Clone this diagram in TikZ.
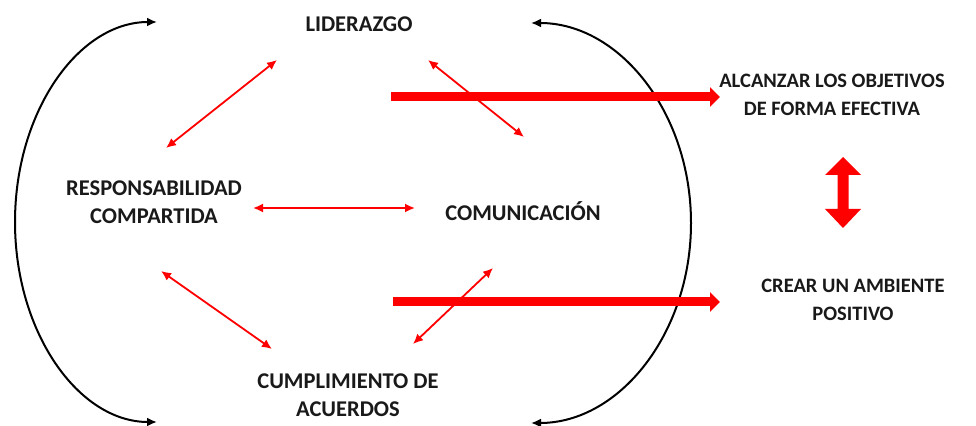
\documentclass[tikz,border=0pt]{standalone}
\usepackage{fontspec}
\setmainfont{Carlito}
\usetikzlibrary{arrows.meta}

\begin{document}
\begin{tikzpicture}[>={Latex[length=10bp,width=9bp]},line join=bevel,
  txt/.style={align=center,font=\bfseries\fontsize{22.5bp}{27.5bp}\selectfont,text=black!90},
  meta/.style={txt,font=\bfseries\fontsize{20.5bp}{28bp}\selectfont},
  rel/.style={red,line width=1.8bp,<->},
  big/.style={red,line width=9bp,-{Triangle[length=10bp,width=19bp]}},
  ciclo/.style={black,line width=2bp,<->}]
\useasboundingbox (0bp,0bp) rectangle (976bp,426bp);
%%
\node (lider) at (359bp,402bp) [txt] {LIDERAZGO};
  \node (resp) at (154bp,224bp) [txt] {RESPONSABILIDAD\\COMPARTIDA};
  \node (comun) at (523bp,215bp) [txt] {COMUNICACIÓN};
  \node (cumpl) at (348bp,31bp) [txt] {CUMPLIMIENTO DE\\ACUERDOS};
  \node (alcanz) at (832bp,331bp) [meta] {ALCANZAR LOS OBJETIVOS\\DE FORMA EFECTIVA};
  \node (crear) at (853bp,126bp) [meta] {CREAR UN AMBIENTE\\POSITIVO};
%
\coordinate (r1a) at (166bp,278bp);
  \coordinate (r1b) at (277bp,366bp);
  \coordinate (r2a) at (253bp,218bp);
  \coordinate (r2b) at (415bp,218bp);
  \coordinate (r3a) at (428bp,366bp);
  \coordinate (r3b) at (524bp,289bp);
  \coordinate (r4a) at (161bp,155bp);
  \coordinate (r4b) at (272bp,77bp);
  \coordinate (r5a) at (413bp,82bp);
  \coordinate (r5b) at (493bp,158bp);
  \coordinate (b1) at (391bp,329bp);
  \coordinate (b2) at (393bp,124bp);
  \coordinate (ciz) at (157bp,404bp);
  \coordinate (cde) at (531bp,403bp);
%
\draw [ciclo] (ciz) arc [start angle=90,end angle=270,x radius=142bp,y radius=200bp];
  \draw [ciclo] (cde) arc [start angle=90,end angle=-90,x radius=160bp,y radius=200bp];
  \draw [rel] (r1a) -- (r1b);
  \draw [rel] (r2a) -- (r2b);
  \draw [rel] (r3a) -- (r3b);
  \draw [rel] (r4a) -- (r4b);
  \draw [rel] (r5a) -- (r5b);
  \draw [big] (b1) -- ++(329bp,0bp);
  \draw [big] (b2) -- ++(327bp,0bp);
  \fill [red] (843bp,269bp) -- (861bp,251bp) -- (848.5bp,251bp) -- (848.5bp,217bp)
    -- (861bp,217bp) -- (843bp,198bp) -- (825bp,217bp) -- (837.5bp,217bp)
    -- (837.5bp,251bp) -- (825bp,251bp) -- cycle;
%
\end{tikzpicture}
\end{document}
